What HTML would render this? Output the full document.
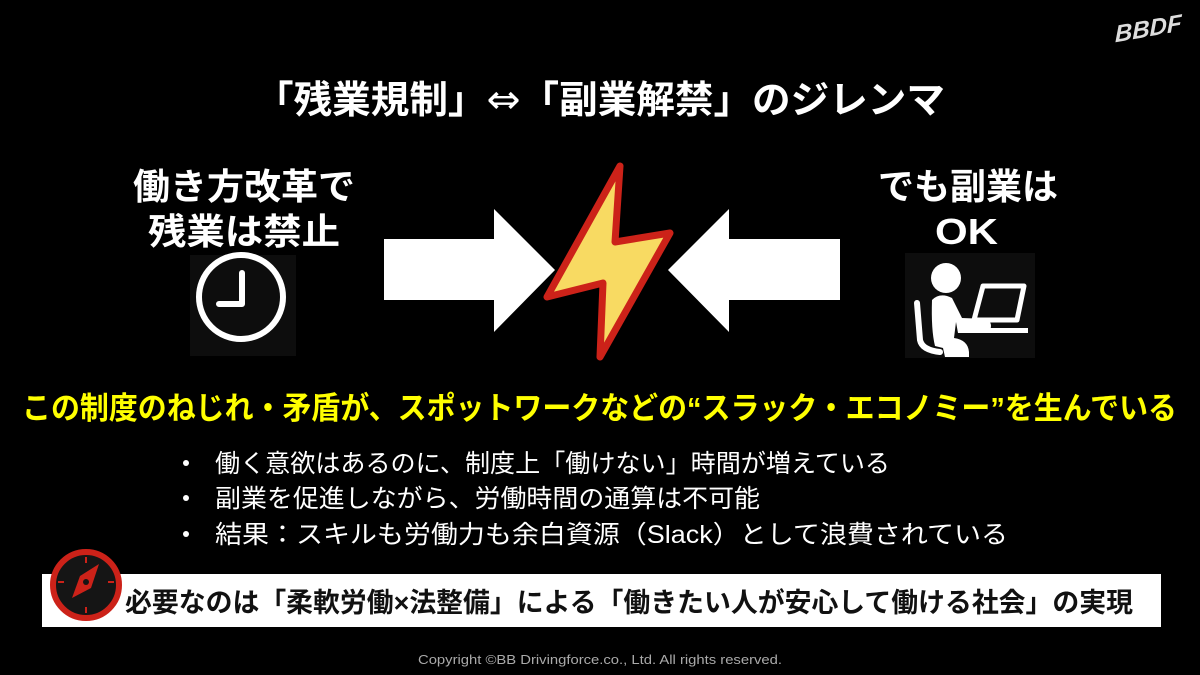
<!DOCTYPE html>
<html><head><meta charset="utf-8"><style>
html,body{margin:0;padding:0;background:#000;}
svg{display:block}
text{font-family:"Liberation Sans","Noto Sans CJK JP",sans-serif;}
</style></head><body>
<svg width="1200" height="675" viewBox="0 0 1200 675" xmlns="http://www.w3.org/2000/svg">
<rect width="1200" height="675" fill="#000"/>
<!-- logo -->
<text x="1115" y="43" font-size="24" font-weight="bold" font-style="italic" fill="#ddd" transform="skewY(-10) translate(0,196)">BBDF</text>
<!-- title -->
<text x="255" y="113" font-size="38" font-weight="bold" fill="#fff" textLength="690" lengthAdjust="spacingAndGlyphs">「残業規制」<tspan font-family="DejaVu Sans" font-size="40" font-weight="normal">⇔</tspan>「副業解禁」のジレンマ</text>
<!-- left text -->
<text x="133" y="199" font-size="36" font-weight="bold" fill="#fff" textLength="222" lengthAdjust="spacingAndGlyphs">働き方改革で</text>
<text x="148" y="244" font-size="36" font-weight="bold" fill="#fff" textLength="192" lengthAdjust="spacingAndGlyphs">残業は禁止</text>
<!-- right text -->
<text x="878" y="199" font-size="36" font-weight="bold" fill="#fff" textLength="180" lengthAdjust="spacingAndGlyphs">でも副業は</text>
<text x="935" y="244" font-size="36" font-weight="bold" fill="#fff" textLength="63" lengthAdjust="spacingAndGlyphs">OK</text>
<!-- clock -->
<rect x="190" y="255" width="106" height="101" fill="#0d0d0d"/>
<circle cx="241" cy="297" r="42" fill="none" stroke="#fff" stroke-width="6"/>
<polyline points="242,273 242,304 219,304" fill="none" stroke="#fff" stroke-width="6" stroke-linecap="round" stroke-linejoin="round"/>
<!-- person at laptop -->
<rect x="905" y="253" width="130" height="105" fill="#0d0d0d"/>
<circle cx="946" cy="278" r="15" fill="#fff"/>
<path d="M932 300 Q940 292 952 298 L962 318 L988 319 Q994 326 988 333 L958 333 L956 322 L954 338 Q968 340 969 352 L969 357 L945 357 L943 348 L935 346 Q931 330 932 300 Z" fill="#fff"/>
<path d="M917 303 L920 340 Q922 350 940 352" fill="none" stroke="#fff" stroke-width="6" stroke-linecap="round"/>
<polygon points="983,286 1024,286 1017,320 974,320" fill="none" stroke="#fff" stroke-width="5" stroke-linejoin="round"/>
<rect x="968" y="328" width="60" height="5" fill="#fff"/>
<!-- arrows -->
<polygon points="384,239 494,239 494,209 555,270 494,332 494,300 384,300" fill="#fff"/>
<polygon points="840,239 729,239 729,209 668,270 729,332 729,300 840,300" fill="#fff"/>
<!-- lightning -->
<polygon points="620,166 615,242 670,233 600,357 603,283 547,297" fill="#f8da62" stroke="#cc2219" stroke-width="7" stroke-linejoin="round"/>
<!-- yellow line -->
<text x="22" y="419" font-size="31" font-weight="bold" fill="#ffff00" textLength="1155" lengthAdjust="spacingAndGlyphs">この制度のねじれ・矛盾が、スポットワークなどの“スラック・エコノミー”を生んでいる</text>
<!-- bullets -->
<g fill="#fff" font-size="25">
<circle cx="186" cy="463" r="3"/>
<circle cx="186" cy="498" r="3"/>
<circle cx="186" cy="534" r="3"/>
<text x="215" y="472" textLength="675" lengthAdjust="spacingAndGlyphs">働く意欲はあるのに、制度上「働けない」時間が増えている</text>
<text x="215" y="507" textLength="545" lengthAdjust="spacingAndGlyphs">副業を促進しながら、労働時間の通算は不可能</text>
<text x="215" y="543" textLength="793" lengthAdjust="spacingAndGlyphs">結果：スキルも労働力も余白資源（Slack）として浪費されている</text>
</g>
<!-- bottom box -->
<rect x="42" y="574" width="1119" height="53" fill="#fff"/>
<text x="125" y="612" font-size="27" font-weight="bold" fill="#111" textLength="1008" lengthAdjust="spacingAndGlyphs">必要なのは「柔軟労働×法整備」による「働きたい人が安心して働ける社会」の実現</text>
<!-- compass -->
<circle cx="86" cy="585" r="33" fill="#151515" stroke="#cc2219" stroke-width="6"/>
<g stroke="#cc2219" stroke-width="2">
<line x1="86" y1="557" x2="86" y2="563"/><line x1="86" y1="607" x2="86" y2="613"/>
<line x1="58" y1="582" x2="64" y2="582"/><line x1="108" y1="582" x2="114" y2="582"/>
</g>
<polygon points="99,564 91,588 72,598 80,576" fill="#cc2219"/>
<circle cx="86" cy="582" r="3" fill="#151515"/>
<!-- copyright -->
<text x="600" y="664" font-size="13" fill="#aaa" text-anchor="middle" textLength="364" lengthAdjust="spacingAndGlyphs">Copyright ©BB Drivingforce.co., Ltd. All rights reserved.</text>
</svg>
</body></html>
